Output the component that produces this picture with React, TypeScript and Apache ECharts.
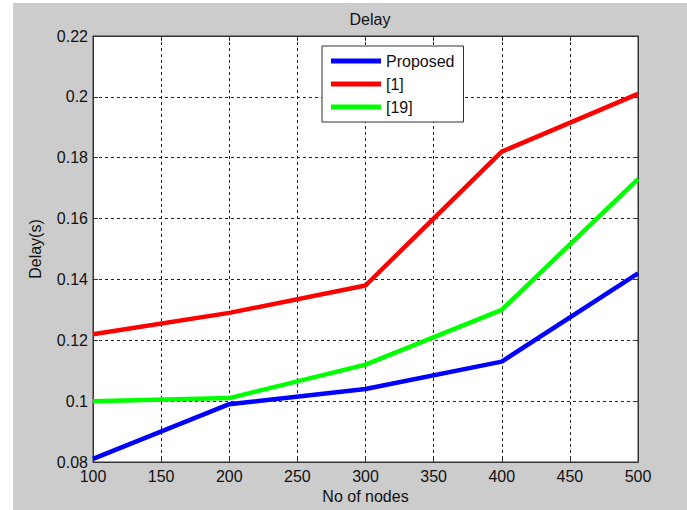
import React, { useEffect, useRef } from "react";
import * as echarts from "echarts";

const nodes = [100, 200, 300, 400, 500];
const proposed = [0.081, 0.099, 0.104, 0.113, 0.142];
const ref1 = [0.122, 0.129, 0.138, 0.182, 0.201];
const ref19 = [0.1, 0.101, 0.112, 0.13, 0.173];
const seriesNames = ["Proposed", "[1]", "[19]"];
const seriesColors = ["#0000ff", "#ff0000", "#00ff00"];

const FONT = "'Liberation Sans', Arial, sans-serif";

export default function App() {
  const ref = useRef<HTMLDivElement>(null);
  useEffect(() => {
    if (!ref.current) return;
    const chart = echarts.init(ref.current, undefined, { renderer: "svg" });
    const pair = (ys: number[]) => nodes.map((x, i) => [x, ys[i]]);
    const lab = { color: "#111", fontFamily: FONT, fontSize: 16 };
    const axisLine = { show: true, lineStyle: { color: "#333", width: 1 } };
    const tick = { show: true, inside: true, length: 5, lineStyle: { color: "#333" } };
    chart.setOption({
      animation: false,
      textStyle: { fontFamily: FONT },
      title: {
        text: "Delay",
        left: 365,
        top: 6,
        textAlign: "center",
        textStyle: { fontFamily: FONT, fontSize: 16, fontWeight: "normal", color: "#111" },
      },
      legend: {
        orient: "vertical",
        left: 322,
        top: 46,
        padding: [7, 9, 7, 9],
        itemGap: 7,
        itemWidth: 50,
        itemHeight: 5,
        icon: "rect",
        backgroundColor: "#ffffff",
        borderColor: "#333",
        borderWidth: 1,
        borderRadius: 0,
        textStyle: { fontFamily: FONT, fontSize: 16, color: "#111", lineHeight: 16 },
        data: seriesNames,
      },
      grid: {
        left: 93,
        top: 36,
        right: 49,
        bottom: 48,
        show: true,
        backgroundColor: "#ffffff",
        borderColor: "#333",
        borderWidth: 1,
      },
      xAxis: [
        {
          type: "value",
          min: 100,
          max: 500,
          interval: 50,
          name: "No of nodes",
          nameLocation: "middle",
          nameGap: 26,
          nameTextStyle: { ...lab, verticalAlign: "top" },
          axisLine,
          axisTick: tick,
          axisLabel: { ...lab, margin: 6 },
          splitLine: { show: true, lineStyle: { color: "#222", type: [3, 3], width: 1 } },
        },
        {
          type: "value",
          position: "top",
          min: 100,
          max: 500,
          interval: 50,
          axisLine,
          axisTick: tick,
          axisLabel: { show: false },
          splitLine: { show: false },
        },
      ],
      yAxis: [
        {
          type: "value",
          min: 0.08,
          max: 0.22,
          interval: 0.02,
          name: "Delay(s)",
          nameLocation: "middle",
          nameGap: 50,
          nameRotate: 90,
          nameTextStyle: lab,
          axisLine,
          axisTick: tick,
          axisLabel: {
            ...lab,
            margin: 5,
            formatter: (v: number) => String(parseFloat(v.toFixed(2))),
          },
          splitLine: { show: true, lineStyle: { color: "#222", type: [3, 3], width: 1 } },
        },
        {
          type: "value",
          position: "right",
          min: 0.08,
          max: 0.22,
          interval: 0.02,
          axisLine,
          axisTick: tick,
          axisLabel: { show: false },
          splitLine: { show: false },
        },
      ],
      series: [proposed, ref1, ref19].map((ys, i) => ({
        name: seriesNames[i],
        type: "line",
        data: pair(ys),
        symbol: "none",
        color: seriesColors[i],
        lineStyle: { width: 4.5, color: seriesColors[i] },
        z: 3,
      })),
    });
    return () => chart.dispose();
  }, []);
  return (
    <div style={{ position: "fixed", left: 0, top: 0, width: 687, height: 510, background: "#ffffff" }}>
      <div style={{ position: "absolute", left: 13, top: 3, right: 0, bottom: 0, background: "#cccccc" }} />
      <div ref={ref} style={{ position: "absolute", left: 0, top: 0, width: 687, height: 510 }} />
    </div>
  );
}
